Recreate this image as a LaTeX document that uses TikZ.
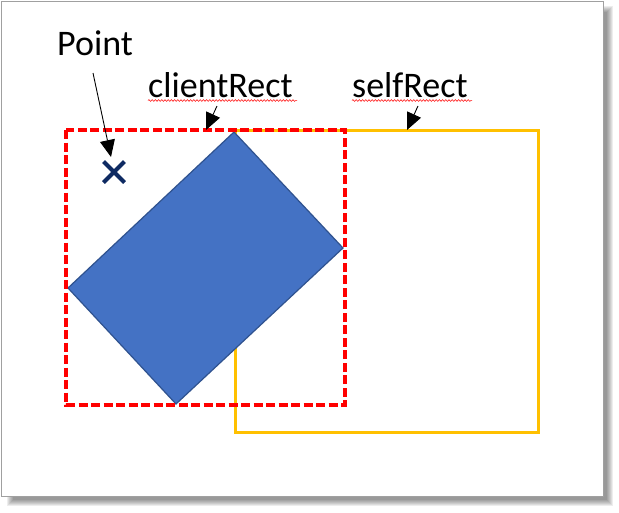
\documentclass[tikz,border=0pt]{standalone}
\usepackage{fontspec}
\setmainfont{Carlito}
\usetikzlibrary{arrows.meta,shapes.misc,decorations.pathmorphing}
\definecolor{shapeblue}{HTML}{4472C4}
\definecolor{shapeedge}{HTML}{2F528F}
\definecolor{navyx}{HTML}{0E2A62}
\definecolor{yellowrect}{HTML}{FFC000}
\definecolor{framegray}{HTML}{A0A0A0}
\tikzset{
  lbl/.style={anchor=base west, inner sep=0pt, font=\fontsize{36}{40}\selectfont},
  ptr/.style={draw=black, line width=0.9pt, -{Triangle[length=17pt,width=15pt]}},
  squig/.style={draw=red, line width=0.5pt, decorate, decoration={snake, amplitude=0.9pt, segment length=3.2pt}},
}
\begin{document}
\begin{tikzpicture}[x=1pt,y=-1pt]
\useasboundingbox (0,0) rectangle (619,512);
% shadow
\foreach \k in {0,...,6}{
  \fill[black, opacity=0.07] (7+\k,6+\k) rectangle (613-\k,506-\k);
}
% page frame
\fill[white] (1,1) rectangle (603,496);
\draw[framegray, line width=1pt] (1,1) rectangle (603,496);
% rectangles and shape
\draw[yellowrect, line width=3pt] (235,130) rectangle (538,432);
\draw[shapeedge, fill=shapeblue, line width=1.2pt] (234,132) -- (343,248) -- (176,404) -- (68,288) -- cycle;
\draw[red, line width=3.2pt, dash pattern=on 9pt off 3.5pt] (66,130) rectangle (345,405);
% cross
\node[cross out, draw=navyx, line width=4pt, minimum size=17pt, inner sep=0pt] (pt) at (114,172) {};
% labels
\node[lbl] (ptlabel) at (57,55) {Point};
\node[lbl] (clabel) at (148,97) {clientRect};
\node[lbl] (slabel) at (352,97) {selfRect};
\draw[squig] (clabel.base west) ++(0,3.5) -- ++(149,0);
\draw[squig] (slabel.base west) ++(0,3.5) -- ++(120,0);
% pointers
\coordinate (pa) at (93,73);
\coordinate (pb) at (111,157);
\coordinate (ca) at (217,106);
\coordinate (cb) at (206,130);
\coordinate (sa) at (418,106);
\coordinate (sb) at (407,130);
\draw[ptr] (pa) -- (pb);
\draw[ptr] (ca) -- (cb);
\draw[ptr] (sa) -- (sb);
\end{tikzpicture}
\end{document}
